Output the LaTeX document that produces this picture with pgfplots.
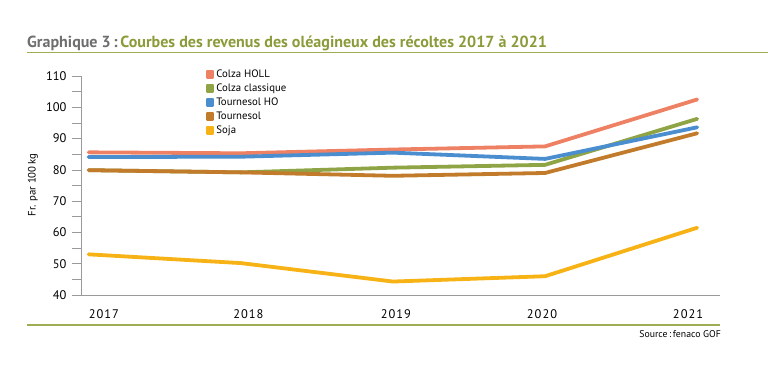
\documentclass[border=0pt]{standalone}
\usepackage{fontspec}
\setmainfont{PT Sans}
\usepackage{pgfplots}
\pgfplotsset{compat=1.18}
\definecolor{cHOLL}{HTML}{EE8064}
\definecolor{cClassique}{HTML}{8FA445}
\definecolor{cHO}{HTML}{4B8ED0}
\definecolor{cTournesol}{HTML}{C27B2B}
\definecolor{cSoja}{HTML}{F7B216}
\definecolor{titlegreen}{HTML}{8A9C3A}
\definecolor{rulegreen}{HTML}{9DAD52}
\definecolor{titlegrey}{HTML}{6E6E6E}
\definecolor{axisgrey}{HTML}{9A9A9A}
\begin{document}
\begin{tikzpicture}[x=1bp,y=1bp]
\useasboundingbox (0,0) rectangle (768,373);
% title
\node[anchor=base west, inner sep=0pt] at (27,326) {\fontsize{16.1}{19}\selectfont\bfseries\color{titlegrey}Graphique 3\,:\,\color{titlegreen}Courbes des revenus des oléagineux des récoltes 2017 à 2021};
\draw[rulegreen, line width=1.8bp] (27,320.5) -- (768,320.5);
\draw[rulegreen, line width=1.8bp] (27,48) -- (720,48);
\node[anchor=base east, inner sep=0pt] at (721,36) {\fontsize{9.8}{12}\selectfont Source\,:\,fenaco GOF};
\node[rotate=90, inner sep=0pt] at (33,188) {\fontsize{10.8}{13}\selectfont Fr. par 100\,kg};
\begin{axis}[
  scale only axis,
  width=639bp, height=219bp,
  at={(81bp,78bp)}, anchor=south west,
  xmin=-0.05, xmax=4.15,
  ymin=40, ymax=110,
  axis x line=bottom, axis y line=left,
  axis line style={-, axisgrey, line width=0.6bp},
  xtick={0.1,1.05,2.02,2.98,3.94},
  xticklabels={2017,2018,2019,2020,2021},
  x tick style={draw=none},
  ytick={40,50,...,110},
  minor ytick={45,55,...,105},
  y tick style={axisgrey, line width=0.6bp},
  tick align=outside,
  major tick length=9bp, minor tick length=9bp,
  yticklabel style={font=\fontsize{12.5}{14}\selectfont, xshift=-2bp},
  xticklabel style={font=\fontsize{12.5}{14}\selectfont\addfontfeature{LetterSpace=8}, yshift=-2bp},
  /pgf/number format/assume math mode=true,
  clip=false,
  legend style={at={(0.19,1.05)}, anchor=north west, draw=none, fill=none,
    font=\fontsize{10.8}{12}\selectfont, row sep=0pt,
    nodes={text height=8bp, text depth=2bp, inner sep=2bp}},
  legend cell align=left,
  legend image code/.code={\fill (0bp,-2.5bp) rectangle (5bp,2.5bp);},
  every axis plot/.append style={line width=3.8bp, line cap=round, line join=round, mark=none},
]
\addplot[color=cHOLL] coordinates {(0,85.6) (1,85.3) (2,86.5) (3,87.5) (4,102.5)};
\addlegendentry{Colza HOLL}
\addplot[color=cClassique] coordinates {(0,79.9) (1,79.2) (2,80.7) (3,81.6) (4,96.3)};
\addlegendentry{Colza classique}
\addplot[color=cHO] coordinates {(0,84.1) (1,84.2) (2,85.5) (3,83.5) (4,93.6)};
\addlegendentry{Tournesol HO}
\addplot[color=cTournesol] coordinates {(0,79.9) (1,79.2) (2,78.1) (3,79.0) (4,91.7)};
\addlegendentry{Tournesol}
\addplot[color=cSoja] coordinates {(0,53.0) (1,50.2) (2,44.3) (3,46.0) (4,61.5)};
\addlegendentry{Soja}
\end{axis}
\end{tikzpicture}
\end{document}
